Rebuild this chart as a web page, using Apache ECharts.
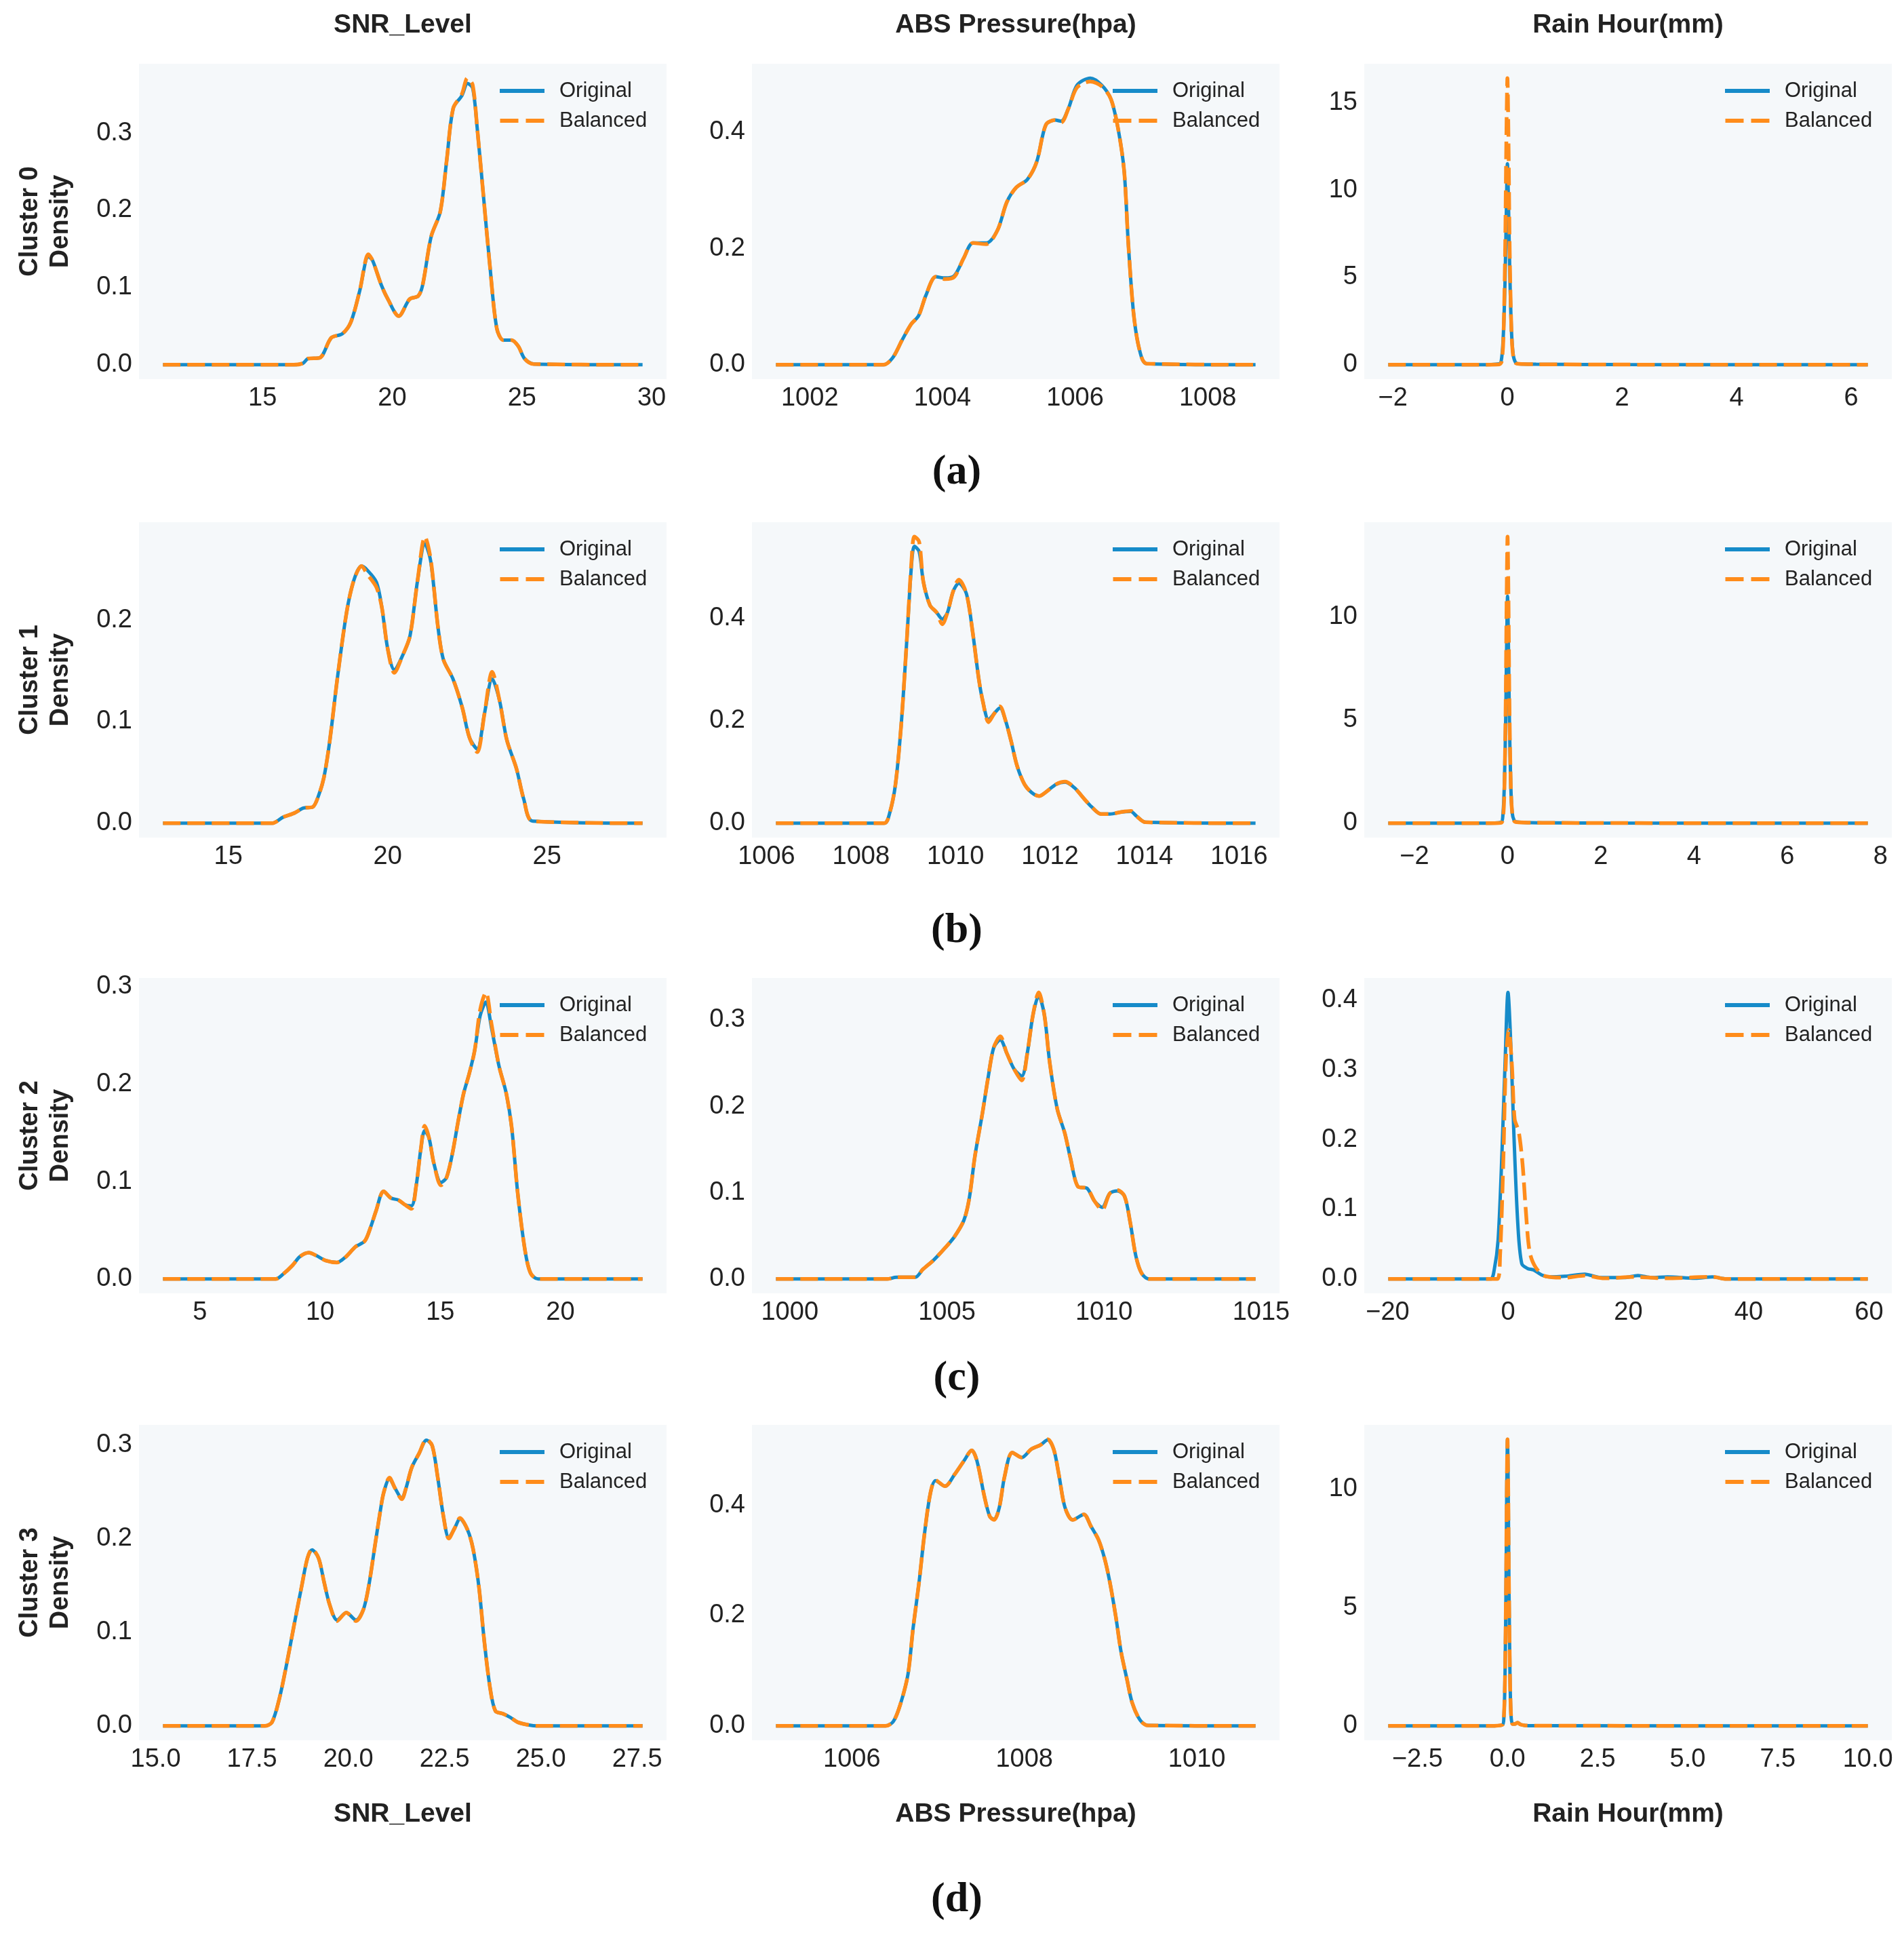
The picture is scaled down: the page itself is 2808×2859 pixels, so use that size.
<!DOCTYPE html>
<html>
<head>
<meta charset="utf-8">
<title>Cluster density: Original vs Balanced</title>
<script src="https://cdn.jsdelivr.net/npm/echarts@6.0.0/dist/echarts.min.js"></script>
<style>
  html, body { margin: 0; padding: 0; background: #fff; }
  #chart { width: 2808px; height: 2859px; }
</style>
</head>
<body>
<div id="chart"></div>
<script>
var colTitles = ['SNR_Level', 'ABS Pressure(hpa)', 'Rain Hour(mm)'];
var rowNames = ['Cluster 0', 'Cluster 1', 'Cluster 2', 'Cluster 3'];
var captions = ['(a)', '(b)', '(c)', '(d)'];

// ---- Cluster 0 ----
var snrC0X    = [11.16, 16.2, 16.56, 16.75, 17.2, 17.65, 18.07, 18.4, 18.74, 19.08, 19.24, 19.58, 19.83, 20.25, 20.67, 21.0, 21.17, 21.5, 21.85, 22.1, 22.35, 22.68, 22.9, 23.1, 23.27, 23.52, 23.77, 24.03, 24.28, 24.6, 24.86, 25.1, 25.45, 29.65];
var snrC0Orig = [0, 0, 0.002, 0.008, 0.009, 0.035, 0.04, 0.055, 0.095, 0.140, 0.135, 0.103, 0.085, 0.063, 0.085, 0.089, 0.103, 0.166, 0.198, 0.265, 0.332, 0.348, 0.364, 0.358, 0.308, 0.217, 0.126, 0.047, 0.032, 0.032, 0.024, 0.008, 0.001, 0];
var snrC0Bal  = [0, 0, 0.002, 0.008, 0.009, 0.035, 0.04, 0.055, 0.095, 0.143, 0.135, 0.103, 0.085, 0.063, 0.085, 0.089, 0.103, 0.166, 0.198, 0.265, 0.332, 0.350, 0.371, 0.362, 0.308, 0.217, 0.126, 0.047, 0.032, 0.032, 0.024, 0.008, 0.001, 0];

var absC0X    = [1001.49, 1003.11, 1003.25, 1003.39, 1003.53, 1003.64, 1003.75, 1003.9, 1004.04, 1004.18, 1004.32, 1004.46, 1004.66, 1004.83, 1004.97, 1005.11, 1005.28, 1005.42, 1005.56, 1005.7, 1005.79, 1005.9, 1006.03, 1006.23, 1006.4, 1006.54, 1006.65, 1006.74, 1006.8, 1006.88, 1006.97, 1007.08, 1008.72];
var absC0Orig = [0, 0, 0.012, 0.042, 0.07, 0.084, 0.119, 0.151, 0.149, 0.153, 0.183, 0.209, 0.209, 0.231, 0.279, 0.304, 0.318, 0.348, 0.412, 0.42, 0.418, 0.44, 0.48, 0.492, 0.48, 0.456, 0.404, 0.332, 0.212, 0.09, 0.026, 0.002, 0];
var absC0Bal  = [0, 0, 0.012, 0.042, 0.07, 0.084, 0.119, 0.151, 0.147, 0.151, 0.183, 0.209, 0.207, 0.231, 0.279, 0.304, 0.318, 0.348, 0.412, 0.42, 0.416, 0.44, 0.476, 0.486, 0.478, 0.456, 0.404, 0.332, 0.212, 0.09, 0.026, 0.002, 0];

var rainC0X    = [-2.08, -0.5, -0.14, -0.1, -0.07, -0.04, -0.02, 0, 0.02, 0.04, 0.07, 0.1, 0.14, 0.2, 0.5, 1.0, 2.0, 6.29];
var rainC0Orig = [0, 0, 0.05, 0.4, 1.8, 5.0, 8.5, 11.5, 9.0, 5.5, 2.0, 0.6, 0.15, 0.05, 0.03, 0.02, 0.01, 0];
var rainC0Bal  = [0, 0, 0.02, 0.2, 1.5, 6.5, 12.5, 16.4, 12.5, 6.5, 2.0, 0.5, 0.12, 0.05, 0.03, 0.02, 0.01, 0];

// ---- Cluster 1 ----
var snrC1X    = [12.95, 16.37, 16.72, 17.07, 17.36, 17.65, 17.83, 18.0, 18.18, 18.42, 18.71, 18.94, 19.18, 19.36, 19.65, 19.82, 20.0, 20.21, 20.47, 20.7, 20.94, 21.17, 21.35, 21.58, 21.75, 22.05, 22.34, 22.57, 22.81, 23.04, 23.28, 23.51, 23.74, 24.04, 24.27, 24.56, 28.0];
var snrC1Orig = [0, 0, 0.006, 0.010, 0.015, 0.016, 0.027, 0.045, 0.08, 0.142, 0.207, 0.239, 0.253, 0.249, 0.237, 0.212, 0.172, 0.151, 0.165, 0.184, 0.239, 0.275, 0.258, 0.193, 0.161, 0.142, 0.114, 0.084, 0.073, 0.108, 0.142, 0.121, 0.082, 0.054, 0.024, 0.002, 0];
var snrC1Bal  = [0, 0, 0.006, 0.010, 0.015, 0.016, 0.027, 0.045, 0.08, 0.142, 0.207, 0.239, 0.253, 0.245, 0.232, 0.212, 0.172, 0.148, 0.165, 0.184, 0.239, 0.282, 0.260, 0.193, 0.161, 0.142, 0.114, 0.084, 0.070, 0.108, 0.149, 0.121, 0.082, 0.054, 0.024, 0.002, 0];

var absC1X    = [1006.2, 1008.49, 1008.61, 1008.73, 1008.85, 1008.96, 1009.07, 1009.13, 1009.23, 1009.32, 1009.46, 1009.6, 1009.72, 1009.83, 1009.95, 1010.07, 1010.23, 1010.36, 1010.49, 1010.58, 1010.7, 1010.82, 1010.94, 1011.06, 1011.18, 1011.3, 1011.46, 1011.61, 1011.77, 1011.93, 1012.13, 1012.32, 1012.52, 1012.72, 1012.88, 1013.08, 1013.27, 1013.51, 1013.71, 1013.83, 1014.02, 1016.35];
var absC1Orig = [0, 0, 0.021, 0.076, 0.191, 0.343, 0.505, 0.540, 0.530, 0.471, 0.425, 0.411, 0.398, 0.411, 0.452, 0.468, 0.448, 0.375, 0.283, 0.237, 0.202, 0.214, 0.225, 0.2, 0.159, 0.113, 0.076, 0.06, 0.053, 0.062, 0.076, 0.08, 0.069, 0.048, 0.032, 0.018, 0.018, 0.022, 0.023, 0.014, 0.002, 0];
var absC1Bal  = [0, 0, 0.021, 0.076, 0.191, 0.343, 0.513, 0.559, 0.549, 0.471, 0.425, 0.411, 0.388, 0.411, 0.452, 0.475, 0.448, 0.375, 0.283, 0.237, 0.197, 0.214, 0.228, 0.2, 0.159, 0.113, 0.076, 0.06, 0.053, 0.062, 0.076, 0.081, 0.069, 0.048, 0.032, 0.018, 0.018, 0.022, 0.024, 0.014, 0.002, 0];

var rainC1X    = [-2.56, -0.5, -0.14, -0.1, -0.07, -0.04, -0.02, 0, 0.02, 0.04, 0.07, 0.1, 0.14, 0.2, 0.5, 1.0, 2.0, 7.73];
var rainC1Orig = [0, 0, 0.05, 0.4, 1.8, 5.0, 8.5, 11.0, 8.5, 5.0, 1.8, 0.5, 0.15, 0.06, 0.03, 0.02, 0.01, 0];
var rainC1Bal  = [0, 0, 0.02, 0.2, 1.4, 5.8, 10.8, 13.9, 10.8, 5.8, 1.8, 0.5, 0.12, 0.05, 0.03, 0.02, 0.01, 0];

// ---- Cluster 2 ----
var snrC2X    = [3.46, 8.15, 8.46, 8.85, 9.16, 9.53, 9.84, 10.23, 10.7, 11.08, 11.47, 11.86, 12.1, 12.33, 12.64, 12.95, 13.26, 13.54, 13.8, 14.0, 14.19, 14.35, 14.53, 14.74, 15.03, 15.26, 15.5, 15.74, 15.97, 16.2, 16.43, 16.66, 16.9, 17.13, 17.44, 17.75, 17.98, 18.22, 18.53, 18.76, 19.07, 23.42];
var snrC2Orig = [0, 0, 0.005, 0.014, 0.023, 0.027, 0.024, 0.019, 0.017, 0.023, 0.033, 0.039, 0.053, 0.07, 0.09, 0.083, 0.081, 0.076, 0.075, 0.096, 0.133, 0.152, 0.145, 0.118, 0.099, 0.104, 0.128, 0.161, 0.19, 0.21, 0.234, 0.27, 0.284, 0.258, 0.219, 0.19, 0.154, 0.089, 0.029, 0.006, 0, 0];
var snrC2Bal  = [0, 0, 0.005, 0.014, 0.023, 0.027, 0.024, 0.019, 0.017, 0.023, 0.033, 0.039, 0.053, 0.07, 0.09, 0.083, 0.081, 0.076, 0.072, 0.096, 0.133, 0.157, 0.145, 0.118, 0.096, 0.104, 0.128, 0.161, 0.19, 0.21, 0.234, 0.276, 0.294, 0.262, 0.219, 0.19, 0.154, 0.089, 0.029, 0.006, 0, 0];

var absC2X    = [999.56, 1003.1, 1003.39, 1003.99, 1004.23, 1004.58, 1004.94, 1005.24, 1005.54, 1005.71, 1005.89, 1006.13, 1006.31, 1006.49, 1006.7, 1006.9, 1007.14, 1007.38, 1007.56, 1007.74, 1007.92, 1008.1, 1008.27, 1008.51, 1008.75, 1008.93, 1009.17, 1009.46, 1009.7, 1009.94, 1010.18, 1010.42, 1010.65, 1010.83, 1011.01, 1011.19, 1011.43, 1014.82];
var absC2Orig = [0, 0, 0.002, 0.002, 0.011, 0.022, 0.036, 0.049, 0.068, 0.093, 0.142, 0.192, 0.233, 0.268, 0.277, 0.262, 0.243, 0.235, 0.262, 0.306, 0.328, 0.306, 0.251, 0.197, 0.169, 0.14, 0.107, 0.105, 0.09, 0.083, 0.099, 0.102, 0.096, 0.066, 0.027, 0.007, 0, 0];
var absC2Bal  = [0, 0, 0.002, 0.002, 0.011, 0.022, 0.036, 0.049, 0.068, 0.093, 0.142, 0.192, 0.233, 0.268, 0.281, 0.262, 0.243, 0.230, 0.262, 0.306, 0.332, 0.306, 0.251, 0.197, 0.169, 0.14, 0.107, 0.105, 0.09, 0.080, 0.099, 0.103, 0.096, 0.066, 0.027, 0.007, 0, 0];

var rainC2XOrig = [-19.9, -2.94, -2.29, -1.64, -0.98, -0.46, 0, 0.46, 0.98, 1.64, 2.29, 3.27, 4.25, 5.56, 6.87, 9.49, 12.76, 15.38, 19.3, 21.6, 23.9, 26.5, 31.1, 34.0, 36.3, 59.8];
var rainC2Orig  = [0, 0, 0.013, 0.056, 0.186, 0.316, 0.411, 0.338, 0.208, 0.078, 0.022, 0.015, 0.013, 0.006, 0.003, 0.004, 0.007, 0.002, 0.002, 0.005, 0.002, 0.003, 0.001, 0.003, 0, 0];
var rainC2XBal  = [-19.9, -1.77, -1.31, -0.79, -0.33, 0.13, 0.65, 1.11, 1.77, 2.42, 2.95, 3.6, 4.58, 6.22, 9.49, 12.76, 16.0, 21.3, 25.9, 34.0, 36.3, 59.8];
var rainC2Bal   = [0, 0, 0.035, 0.165, 0.316, 0.357, 0.307, 0.229, 0.212, 0.165, 0.1, 0.039, 0.017, 0.004, 0.002, 0.005, 0.001, 0.003, 0.001, 0.003, 0, 0];

// ---- Cluster 3 ----
var snrC3X    = [15.19, 17.83, 18.02, 18.21, 18.4, 18.6, 18.79, 18.94, 19.06, 19.23, 19.37, 19.52, 19.71, 19.95, 20.2, 20.39, 20.53, 20.68, 20.83, 20.92, 21.07, 21.21, 21.39, 21.5, 21.65, 21.84, 22.03, 22.18, 22.32, 22.47, 22.61, 22.76, 22.9, 23.1, 23.24, 23.39, 23.53, 23.68, 23.82, 24.02, 24.21, 24.4, 24.69, 24.89, 27.64];
var snrC3Orig = [0, 0, 0.004, 0.029, 0.066, 0.109, 0.149, 0.179, 0.188, 0.179, 0.154, 0.129, 0.113, 0.121, 0.113, 0.124, 0.149, 0.189, 0.229, 0.249, 0.264, 0.254, 0.243, 0.254, 0.276, 0.291, 0.305, 0.299, 0.266, 0.224, 0.201, 0.211, 0.221, 0.209, 0.189, 0.149, 0.091, 0.041, 0.016, 0.013, 0.009, 0.004, 0.001, 0, 0];
var snrC3Bal  = [0, 0, 0.004, 0.029, 0.066, 0.109, 0.149, 0.179, 0.189, 0.179, 0.154, 0.129, 0.112, 0.121, 0.112, 0.124, 0.149, 0.189, 0.229, 0.249, 0.265, 0.254, 0.242, 0.254, 0.276, 0.291, 0.306, 0.299, 0.266, 0.224, 0.200, 0.211, 0.222, 0.209, 0.189, 0.149, 0.091, 0.041, 0.016, 0.013, 0.009, 0.004, 0.001, 0, 0];

var absC3X    = [1005.12, 1006.39, 1006.48, 1006.56, 1006.65, 1006.71, 1006.78, 1006.84, 1006.91, 1006.97, 1007.08, 1007.19, 1007.3, 1007.39, 1007.45, 1007.54, 1007.6, 1007.65, 1007.71, 1007.77, 1007.86, 1007.97, 1008.08, 1008.19, 1008.27, 1008.34, 1008.4, 1008.47, 1008.56, 1008.69, 1008.77, 1008.86, 1008.93, 1008.99, 1009.06, 1009.12, 1009.19, 1009.25, 1009.34, 1009.43, 1010.68];
var absC3Orig = [0, 0, 0.008, 0.038, 0.093, 0.177, 0.261, 0.345, 0.421, 0.444, 0.434, 0.455, 0.48, 0.499, 0.48, 0.413, 0.379, 0.374, 0.396, 0.451, 0.495, 0.486, 0.501, 0.509, 0.518, 0.501, 0.455, 0.396, 0.373, 0.383, 0.362, 0.337, 0.303, 0.261, 0.198, 0.135, 0.084, 0.042, 0.011, 0.001, 0];
var absC3Bal  = [0, 0, 0.008, 0.038, 0.093, 0.177, 0.261, 0.345, 0.421, 0.445, 0.434, 0.455, 0.48, 0.499, 0.48, 0.413, 0.379, 0.373, 0.396, 0.451, 0.495, 0.486, 0.501, 0.509, 0.519, 0.501, 0.455, 0.396, 0.373, 0.383, 0.362, 0.337, 0.303, 0.261, 0.198, 0.135, 0.084, 0.042, 0.011, 0.001, 0];

var rainC3X    = [-3.31, -0.5, -0.14, -0.1, -0.07, -0.04, -0.02, 0, 0.02, 0.04, 0.07, 0.1, 0.14, 0.2, 0.28, 0.36, 0.5, 1.0, 10.0];
var rainC3Orig = [0, 0, 0.05, 0.4, 2.0, 6.0, 10.0, 12.1, 10.0, 6.0, 2.0, 0.4, 0.08, 0.08, 0.14, 0.06, 0.02, 0.01, 0];
var rainC3Bal  = [0, 0, 0.05, 0.4, 2.0, 6.0, 10.0, 12.1, 10.0, 6.0, 2.0, 0.4, 0.08, 0.08, 0.14, 0.06, 0.02, 0.01, 0];

// ---- tick labels ----
var snrC0XTicks = [15, 20, 25, 30];
var snrC1XTicks = [15, 20, 25];
var snrC2XTicks = [5, 10, 15, 20];
var snrC3XTicks = [15, 17.5, 20, 22.5, 25, 27.5];
var absC0XTicks = [1002, 1004, 1006, 1008];
var absC1XTicks = [1006, 1008, 1010, 1012, 1014, 1016];
var absC2XTicks = [1000, 1005, 1010, 1015];
var absC3XTicks = [1006, 1008, 1010];
var rainC0XTicks = [-2, 0, 2, 4, 6];
var rainC1XTicks = [-2, 0, 2, 4, 6, 8];
var rainC2XTicks = [-20, 0, 20, 40, 60];
var rainC3XTicks = [-2.5, 0, 2.5, 5, 7.5, 10];
var yTicks01x3 = [0, 0.1, 0.2, 0.3];
var yTicks01x2 = [0, 0.1, 0.2];
var yTicks01x4 = [0, 0.1, 0.2, 0.3, 0.4];
var yTicks02x2 = [0, 0.2, 0.4];
var yTicks5x3 = [0, 5, 10, 15];
var yTicks5x2 = [0, 5, 10];

var panels = [
  { xo: snrC0X, o: snrC0Orig, xb: snrC0X, b: snrC0Bal, xt: snrC0XTicks, xd: 0, yt: yTicks01x3, yd: 1 },
  { xo: absC0X, o: absC0Orig, xb: absC0X, b: absC0Bal, xt: absC0XTicks, xd: 0, yt: yTicks02x2, yd: 1 },
  { xo: rainC0X, o: rainC0Orig, xb: rainC0X, b: rainC0Bal, xt: rainC0XTicks, xd: 0, yt: yTicks5x3, yd: 0 },
  { xo: snrC1X, o: snrC1Orig, xb: snrC1X, b: snrC1Bal, xt: snrC1XTicks, xd: 0, yt: yTicks01x2, yd: 1 },
  { xo: absC1X, o: absC1Orig, xb: absC1X, b: absC1Bal, xt: absC1XTicks, xd: 0, yt: yTicks02x2, yd: 1 },
  { xo: rainC1X, o: rainC1Orig, xb: rainC1X, b: rainC1Bal, xt: rainC1XTicks, xd: 0, yt: yTicks5x2, yd: 0 },
  { xo: snrC2X, o: snrC2Orig, xb: snrC2X, b: snrC2Bal, xt: snrC2XTicks, xd: 0, yt: yTicks01x3, yd: 1 },
  { xo: absC2X, o: absC2Orig, xb: absC2X, b: absC2Bal, xt: absC2XTicks, xd: 0, yt: yTicks01x3, yd: 1 },
  { xo: rainC2XOrig, o: rainC2Orig, xb: rainC2XBal, b: rainC2Bal, xt: rainC2XTicks, xd: 0, yt: yTicks01x4, yd: 1 },
  { xo: snrC3X, o: snrC3Orig, xb: snrC3X, b: snrC3Bal, xt: snrC3XTicks, xd: 1, yt: yTicks01x3, yd: 1 },
  { xo: absC3X, o: absC3Orig, xb: absC3X, b: absC3Bal, xt: absC3XTicks, xd: 0, yt: yTicks02x2, yd: 1 },
  { xo: rainC3X, o: rainC3Orig, xb: rainC3X, b: rainC3Bal, xt: rainC3XTicks, xd: 1, yt: yTicks5x2, yd: 0 }
];

var blue = '#168bc9';
var orange = '#ff8c1a';
var ink = '#222222';
var sans = 'Liberation Sans, Arial, sans-serif';
var colLeft = [205, 1109, 2012];
var colW = 778;
var rowTop = [94, 770, 1442, 2101];
var rowH = 465;
// legend swatches: a solid bar and a two-dash bar
var solidIcon = 'rect';
var dashIcon = 'path://M0,0H27V6H0Z M38,0H65V6H38Z';

function fmt(dec) {
  return function (v) { return v.toFixed(dec).replace('-', '\u2212'); };
}
function zip(xs, ys) {
  return xs.map(function (x, i) { return [x, ys[i]]; });
}

var grids = [], xAxes = [], yAxes = [], series = [], legends = [], graphics = [];

panels.forEach(function (p, i) {
  var r = Math.floor(i / 3), c = i % 3;
  var left = colLeft[c], top = rowTop[r];
  // matplotlib-like 5% margins around the data
  var allX = p.xo.concat(p.xb), allY = p.o.concat(p.b);
  var xMin = Math.min.apply(null, allX), xMax = Math.max.apply(null, allX);
  var yMax = Math.max.apply(null, allY);
  var xPad = (xMax - xMin) * 0.05;

  grids.push({
    left: left, top: top, width: colW, height: rowH,
    show: true, backgroundColor: '#f5f8fa', borderWidth: 0
  });
  xAxes.push({
    type: 'value', gridIndex: i, min: xMin - xPad, max: xMax + xPad,
    axisLine: { show: false }, axisTick: { show: false }, splitLine: { show: false },
    axisLabel: { customValues: p.xt, formatter: fmt(p.xd), fontSize: 38, fontFamily: sans, color: ink, margin: 10 }
  });
  yAxes.push({
    type: 'value', gridIndex: i, min: -yMax * 0.05, max: yMax * 1.05,
    axisLine: { show: false }, axisTick: { show: false }, splitLine: { show: false },
    axisLabel: { customValues: p.yt, formatter: fmt(p.yd), fontSize: 38, fontFamily: sans, color: ink, margin: 10 }
  });
  series.push({
    name: 'Original', type: 'line', xAxisIndex: i, yAxisIndex: i,
    data: zip(p.xo, p.o), symbol: 'none', smooth: 0.3, z: 2,
    lineStyle: { color: blue, width: 5 }, itemStyle: { color: blue }
  });
  series.push({
    name: 'Balanced', type: 'line', xAxisIndex: i, yAxisIndex: i,
    data: zip(p.xb, p.b), symbol: 'none', smooth: 0.3, z: 3,
    lineStyle: { color: orange, width: 5.5, type: [26, 10] }, itemStyle: { color: orange }
  });
  legends.push({
    orient: 'vertical', left: left + colW - 246, top: top + 22, padding: 0,
    itemWidth: 66, itemHeight: 6, itemGap: 8, selectedMode: false,
    data: [
      { name: 'Original', icon: solidIcon, itemStyle: { color: blue } },
      { name: 'Balanced', icon: dashIcon, itemStyle: { color: orange } }
    ],
    textStyle: { fontSize: 31, lineHeight: 36, fontFamily: sans, color: ink, padding: [0, 0, 0, 17] }
  });
});

// column titles (top and bottom)
colTitles.forEach(function (t, c) {
  var cx = colLeft[c] + colW / 2;
  [37, 2675].forEach(function (y) {
    graphics.push({ type: 'text', x: cx, y: y,
      style: { text: t, font: 'bold 39px ' + sans, fill: ink, textAlign: 'center', textVerticalAlign: 'middle' } });
  });
});
// row labels
rowNames.forEach(function (t, r) {
  var cy = rowTop[r] + rowH / 2;
  graphics.push({ type: 'text', x: 45, y: cy, rotation: Math.PI / 2,
    style: { text: t, font: 'bold 38px ' + sans, fill: ink, textAlign: 'center', textVerticalAlign: 'middle' } });
  graphics.push({ type: 'text', x: 90, y: cy, rotation: Math.PI / 2,
    style: { text: 'Density', font: 'bold 38px ' + sans, fill: ink, textAlign: 'center', textVerticalAlign: 'middle' } });
});
// sub-figure captions
var capY = [697, 1373, 2033, 2802];
captions.forEach(function (t, r) {
  graphics.push({ type: 'text', x: 1411, y: capY[r],
    style: { text: t, font: 'bold 62px Liberation Serif, Times New Roman, serif', fill: '#111', textAlign: 'center', textVerticalAlign: 'middle' } });
});

var chart = echarts.init(document.getElementById('chart'));
chart.setOption({
  animation: false,
  backgroundColor: '#ffffff',
  grid: grids,
  xAxis: xAxes,
  yAxis: yAxes,
  legend: legends,
  series: series,
  graphic: graphics
});
</script>
</body>
</html>
